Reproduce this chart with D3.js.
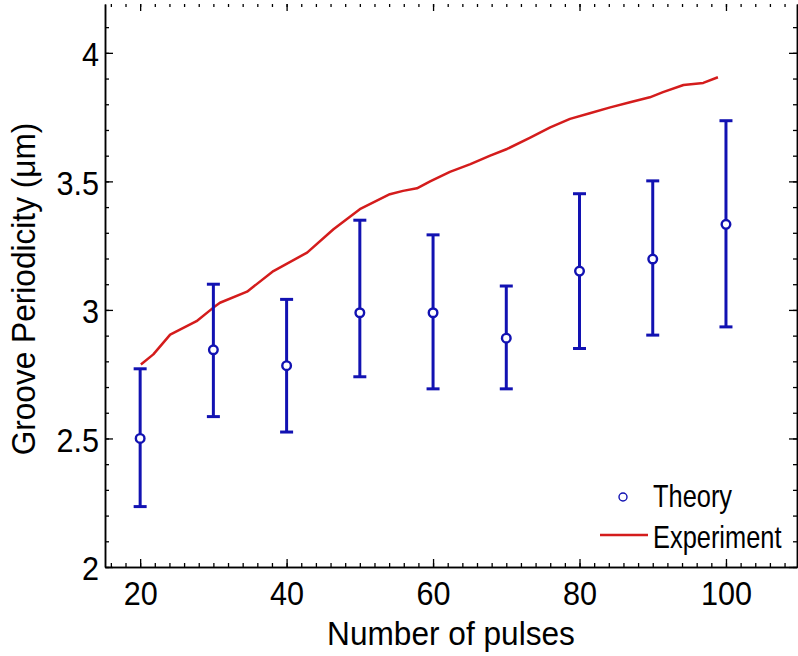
<!DOCTYPE html>
<html>
<head>
<meta charset="utf-8">
<script src="https://cdn.jsdelivr.net/npm/d3@7"></script>
<style>
  html, body { margin: 0; padding: 0; background: #fff; }
  svg { display: block; }
  text { font-family: "Liberation Sans", Arial, sans-serif; }
</style>
</head>
<body>
<div id="chart"></div>
<script>
// ---- data ----
const theoryX    = [20, 30, 40, 50, 60, 70, 80, 90, 100];
const theoryY    = [2.50, 2.845, 2.783, 2.989, 2.989, 2.890, 3.151, 3.198, 3.333];
const theoryLow  = [2.235, 2.585, 2.525, 2.740, 2.693, 2.693, 2.850, 2.902, 2.934];
const theoryHigh = [2.771, 3.100, 3.041, 3.349, 3.292, 3.093, 3.452, 3.502, 3.736];

const expX = [20.1, 21.8, 24.1, 25.5, 27.7, 30.0, 30.9, 34.6, 38.2, 42.8, 46.4, 50.0, 54.1, 55.9, 57.8, 59.6, 62.3, 65.1, 67.8, 70.1, 73.2, 76.0, 78.7, 81.4, 84.2, 86.9, 89.6, 91.4, 94.2, 96.9, 98.9];
const expY = [2.788, 2.827, 2.904, 2.924, 2.956, 3.009, 3.028, 3.071, 3.151, 3.223, 3.314, 3.392, 3.450, 3.463, 3.473, 3.500, 3.537, 3.567, 3.600, 3.626, 3.669, 3.710, 3.743, 3.765, 3.788, 3.808, 3.827, 3.847, 3.875, 3.883, 3.905];

const xMajorTicks = [20, 40, 60, 80, 100];
const yMajorTicks = [2, 2.5, 3, 3.5, 4];
const xMinorTicks = d3.range(16, 110, 2);
const yMinorTicks = d3.range(20, 42, 1).map(d => d / 10);

const xLabel = "Number of pulses";
const yLabel = "Groove Periodicity (\u03bcm)";
const legendLabels = ["Theory", "Experiment"];

(function () {
// ---- layout ----
const W = 798, H = 656;
const pL = 105, pR = 797, pT = 4, pB = 567;
const blue = "#1212b2", red = "#d41c1c";
const FS = 34, SX = 0.9;

const svg = d3.select("#chart").append("svg").attr("width", W).attr("height", H);

const x = d3.scaleLinear().domain([15.2, 109.7]).range([pL, pR]);
const y = d3.scaleLinear().domain([2, 4.19]).range([pB, pT]);

function styleAxis(g) {
  g.selectAll(".domain").attr("stroke", "#000").attr("stroke-width", 1.5);
  g.selectAll(".tick line").attr("stroke", "#000").attr("stroke-width", 1.3);
  g.selectAll("text").attr("font-size", FS).attr("fill", "#000")
    .attr("font-family", "'Liberation Sans', Arial, sans-serif");
}

// bottom
svg.append("g").attr("transform", `translate(0,${pB})`)
  .call(d3.axisBottom(x).tickValues(xMinorTicks).tickSize(-4).tickFormat("").tickSizeOuter(0))
  .call(styleAxis);
svg.append("g").attr("transform", `translate(0,${pB})`)
  .call(d3.axisBottom(x).tickValues(xMajorTicks).tickSize(-8).tickPadding(14).tickSizeOuter(0))
  .call(styleAxis)
  .selectAll(".tick text").attr("transform", `scale(${SX},1)`);
// left
svg.append("g").attr("transform", `translate(${pL},0)`)
  .call(d3.axisLeft(y).tickValues(yMinorTicks).tickSize(-4).tickFormat("").tickSizeOuter(0))
  .call(styleAxis);
svg.append("g").attr("transform", `translate(${pL},0)`)
  .call(d3.axisLeft(y).tickValues(yMajorTicks).tickSize(-8).tickPadding(6.7).tickSizeOuter(0).tickFormat(d3.format("")))
  .call(styleAxis)
  .selectAll(".tick text").attr("dy", "0.38em").attr("transform", `scale(${SX},1)`);
// top (ticks only)
const topMinor = svg.append("g").attr("transform", `translate(0,${pT})`)
  .call(d3.axisTop(x).tickValues(xMinorTicks).tickSize(-3).tickFormat("").tickSizeOuter(0))
  .call(styleAxis);
topMinor.select(".domain").remove();
const topMajor = svg.append("g").attr("transform", `translate(0,${pT})`)
  .call(d3.axisTop(x).tickValues(xMajorTicks).tickSize(-7).tickFormat("").tickSizeOuter(0))
  .call(styleAxis);
topMajor.select(".domain").remove();
// right
svg.append("g").attr("transform", `translate(${pR},0)`)
  .call(d3.axisRight(y).tickValues(yMinorTicks).tickSize(-4).tickFormat("").tickSizeOuter(0))
  .call(styleAxis);
svg.append("g").attr("transform", `translate(${pR},0)`)
  .call(d3.axisRight(y).tickValues(yMajorTicks).tickSize(-8).tickFormat("").tickSizeOuter(0))
  .call(styleAxis);

// axis titles
svg.append("text")
  .attr("transform", `translate(${(pL + pR) / 2},645) scale(0.93,1)`)
  .attr("text-anchor", "middle").attr("font-size", FS).attr("fill", "#000")
  .text(xLabel);
svg.append("text")
  .attr("transform", `translate(35,289) rotate(-90) scale(0.93,1)`)
  .attr("text-anchor", "middle").attr("font-size", FS).attr("fill", "#000")
  .text(yLabel);

// experiment line
const line = d3.line().x((d, i) => x(expX[i])).y((d, i) => y(expY[i]));
svg.append("path").datum(expX)
  .attr("d", line).attr("fill", "none")
  .attr("stroke", red).attr("stroke-width", 2.5).attr("stroke-linejoin", "round");

// theory error bars
const eb = svg.append("g").attr("stroke", blue).attr("stroke-width", 3).attr("fill", "none");
const capW = 6.5;
theoryX.forEach((xv, i) => {
  const cx = x(xv);
  eb.append("line").attr("x1", cx).attr("x2", cx).attr("y1", y(theoryLow[i])).attr("y2", y(theoryHigh[i]));
  eb.append("line").attr("x1", cx - capW).attr("x2", cx + capW).attr("y1", y(theoryLow[i])).attr("y2", y(theoryLow[i]));
  eb.append("line").attr("x1", cx - capW).attr("x2", cx + capW).attr("y1", y(theoryHigh[i])).attr("y2", y(theoryHigh[i]));
});
svg.append("g").selectAll("circle").data(theoryX).join("circle")
  .attr("cx", d => x(d)).attr("cy", (d, i) => y(theoryY[i])).attr("r", 4.3)
  .attr("fill", "#fff").attr("stroke", blue).attr("stroke-width", 2.4);

// legend
const lg = svg.append("g");
lg.append("circle").attr("cx", 623).attr("cy", 497).attr("r", 4)
  .attr("fill", "#fff").attr("stroke", blue).attr("stroke-width", 1.4);
lg.append("line").attr("x1", 600).attr("x2", 648).attr("y1", 535).attr("y2", 535)
  .attr("stroke", red).attr("stroke-width", 2.5);
lg.append("text").attr("transform", "translate(653,507) scale(0.82,1)")
  .attr("font-size", 31).attr("fill", "#000").text(legendLabels[0]);
lg.append("text").attr("transform", "translate(653,548) scale(0.82,1)")
  .attr("font-size", 31).attr("fill", "#000").text(legendLabels[1]);
})();
</script>
</body>
</html>
